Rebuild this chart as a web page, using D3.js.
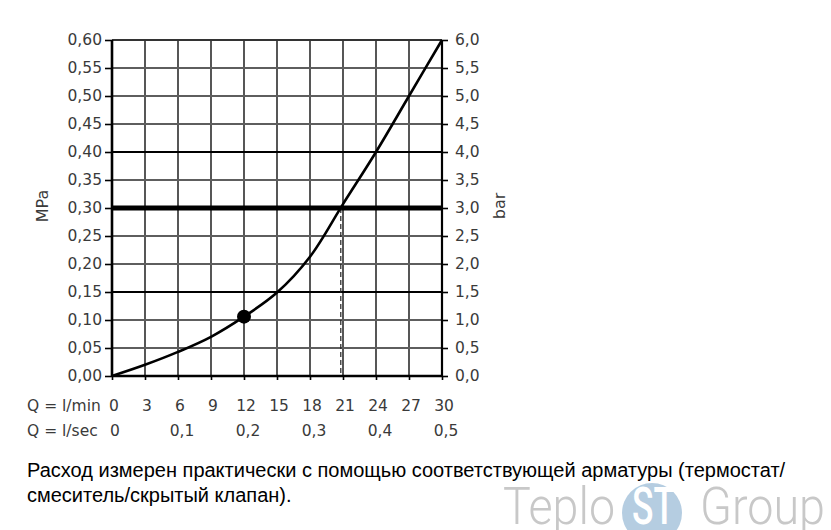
<!DOCTYPE html>
<html><head><meta charset="utf-8">
<script src="https://cdn.jsdelivr.net/npm/d3@7"></script>
<style>
html,body{margin:0;padding:0;background:#fff;}
svg{display:block;}
</style></head>
<body>
<svg id="chart" width="831" height="530"></svg>
<script>
// ---- data ----
const flowLpm = [0, 3, 6, 9, 12, 15, 18, 21, 24, 27, 30];
const pressureMPa = [0, 0.020, 0.043, 0.070, 0.106, 0.149, 0.213, 0.307, 0.400, 0.500, 0.600];
const markerPoint = [12, 0.106];
const operatingPressure = 0.30;
const operatingFlow = 20.8;
const mpaTicks = [0, 0.05, 0.10, 0.15, 0.20, 0.25, 0.30, 0.35, 0.40, 0.45, 0.50, 0.55, 0.60];
const barTicks = [0, 0.5, 1.0, 1.5, 2.0, 2.5, 3.0, 3.5, 4.0, 4.5, 5.0, 5.5, 6.0];
const lpmTicks = [0, 3, 6, 9, 12, 15, 18, 21, 24, 27, 30];
const lpsTicks = [0, 0.1, 0.2, 0.3, 0.4, 0.5];
const darkRows = [0.15, 0.40];
const caption = ["Расход измерен практически с помощью соответствующей арматуры (термостат/",
                 "смеситель/скрытый клапан)."];

const svg = d3.select("#chart");
const L = 112, R = 442, T = 40, B = 376;
const x = d3.scaleLinear().domain([0, 30]).range([L, R]);
const y = d3.scaleLinear().domain([0, 0.6]).range([B, T]);
const yBar = d3.scaleLinear().domain([0, 6]).range([B, T]);
const xLps = d3.scaleLinear().domain([0, 0.5]).range([L, R]);
const comma = f => v => d3.format(f)(v).replace(".", ",");
const tickFont = "'DejaVu Sans', sans-serif";

// grid
const g = svg.append("g");
g.selectAll(".vg").data(lpmTicks.slice(1, -1)).join("line")
  .attr("x1", d => x(d)).attr("x2", d => x(d)).attr("y1", T).attr("y2", B)
  .attr("stroke", "#444").attr("stroke-width", 1.8);
g.selectAll(".hg").data(mpaTicks.slice(1, -1).filter(d => Math.abs(d - 0.30) > 1e-9)).join("line")
  .attr("x1", L).attr("x2", R).attr("y1", d => y(d)).attr("y2", d => y(d))
  .attr("stroke", d => darkRows.some(r => Math.abs(r - d) < 1e-9) ? "#000" : "#5e5e5e")
  .attr("stroke-width", 1.8);

// frame top
g.append("line").attr("x1", L).attr("x2", R).attr("y1", y(0.6)).attr("y2", y(0.6)).attr("stroke", "#333").attr("stroke-width", 2);

// thick operating line
g.append("line").attr("x1", L).attr("x2", R).attr("y1", y(operatingPressure)).attr("y2", y(operatingPressure))
  .attr("stroke", "#000").attr("stroke-width", 5);

// dashed drop line
g.append("line").attr("x1", x(operatingFlow)).attr("x2", x(operatingFlow))
  .attr("y1", y(operatingPressure)).attr("y2", y(0))
  .attr("stroke", "#222").attr("stroke-width", 1.2).attr("stroke-dasharray", "5,3");

// axes
const axL = d3.axisLeft(y).tickValues(mpaTicks).tickFormat(comma(".2f")).tickSize(7).tickPadding(3);
const axR = d3.axisRight(yBar).tickValues(barTicks).tickFormat(comma(".1f")).tickSize(6).tickPadding(7);
const axB = d3.axisBottom(x).tickValues(lpmTicks).tickFormat("").tickSize(4);

function style(sel, w) {
  sel.select(".domain").attr("stroke", "#000").attr("stroke-width", w);
  sel.selectAll(".tick line").attr("stroke", "#000").attr("stroke-width", 1.6);
  sel.selectAll(".tick text").attr("fill", "#3a3a3a").style("font-family", tickFont).style("font-size", "15.5px");
}
const gl = svg.append("g").attr("transform", `translate(${L},0)`).call(axL); style(gl, 2.6);
const gr = svg.append("g").attr("transform", `translate(${R},0)`).call(axR); style(gr, 2.2);
const gb = svg.append("g").attr("transform", `translate(0,${B})`).call(axB); style(gb, 2.6);
gl.select(".domain").attr("d", `M0,${T}V${B}`);
gr.select(".domain").attr("d", `M0,${T}V${B}`);
gb.select(".domain").attr("d", `M${L},0H${R}`);

// curve
const line = d3.line().x((d, i) => x(flowLpm[i])).y(d => y(d)).curve(d3.curveCatmullRom.alpha(0.5));
svg.append("path").datum(pressureMPa).attr("d", line)
  .attr("fill", "none").attr("stroke", "#000").attr("stroke-width", 2.6);
svg.append("circle").attr("cx", x(markerPoint[0])).attr("cy", y(markerPoint[1])).attr("r", 7).attr("fill", "#000");

// axis titles
svg.append("text").attr("transform", `translate(48,${y(0.3) - 2}) rotate(-90)`)
  .attr("text-anchor", "middle").attr("fill", "#3a3a3a").style("font-family", tickFont).style("font-size", "16px").text("MPa");
svg.append("text").attr("transform", `translate(505,${y(0.3) - 2}) rotate(-90)`)
  .attr("text-anchor", "middle").attr("fill", "#3a3a3a").style("font-family", tickFont).style("font-size", "16px").text("bar");

// bottom label rows
const rowFont = s => s.attr("fill", "#3a3a3a").style("font-family", tickFont).style("font-size", "15.5px");
svg.append("text").attr("x", 27).attr("y", 411).text("Q = l/min").call(rowFont);
svg.append("text").attr("x", 27).attr("y", 436).text("Q = l/sec").call(rowFont);
svg.selectAll(".lpm").data(lpmTicks).join("text").attr("x", d => x(d) + 2).attr("y", 411)
  .attr("text-anchor", "middle").text(d => d).call(rowFont);
svg.selectAll(".lps").data(lpsTicks).join("text").attr("x", d => xLps(d) + (d === 0 ? 3 : 4)).attr("y", 436)
  .attr("text-anchor", "middle").text(comma(".1~f")).call(rowFont);

// caption
svg.selectAll(".cap").data(caption).join("text").attr("x", 27).attr("y", (d, i) => 477 + i * 24.5)
  .attr("fill", "#000").style("font-family", "'Liberation Sans', Arial, sans-serif").style("font-size", "20px").text(d => d);

// watermark logo
const logo = svg.append("g");
logo.append("circle").attr("cx", 652).attr("cy", 513).attr("r", 30).attr("fill", "#a8c4dc").attr("opacity", 0.85);
logo.append("text").attr("x", 503).attr("y", 524).text("Teplo").attr("textLength", 112).attr("lengthAdjust", "spacingAndGlyphs")
  .attr("fill", "#c8c8c8").style("font-family", "Roboto, sans-serif").style("font-weight", 300).style("font-size", "52px");
logo.append("text").attr("x", 632).attr("y", 524).text("ST").attr("textLength", 43).attr("lengthAdjust", "spacingAndGlyphs")
  .attr("fill", "#fff").style("font-family", "Roboto, sans-serif").style("font-weight", 500).style("font-size", "52px");
logo.append("text").attr("x", 700).attr("y", 524).text("Group").attr("textLength", 125).attr("lengthAdjust", "spacingAndGlyphs")
  .attr("fill", "#c8c8c8").style("font-family", "Roboto, sans-serif").style("font-weight", 300).style("font-size", "52px");
</script>
</body></html>
